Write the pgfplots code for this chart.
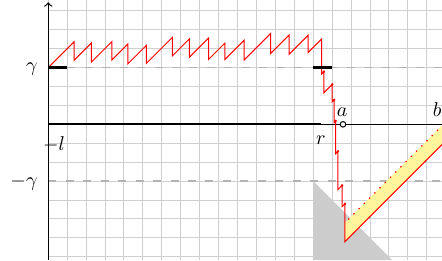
\documentclass[border=0pt]{standalone}
\usepackage{pgfplots}
\pgfplotsset{compat=1.18}
\definecolor{band}{RGB}{255,245,157}
\begin{document}
\begin{tikzpicture}
\begin{axis}[
  x=0.33333cm, y=0.33333cm,
  xmin=0, xmax=20.8, ymin=-7.17, ymax=6.57,
  xtick={0,...,21}, ytick={-7,...,6},
  xticklabels={}, yticklabels={},
  major tick length=0pt,
  grid=major,
  grid style={line width=0.5pt, draw=gray!38},
  axis line style={draw=none},
  clip=false,
  every node/.append style={font=\fontsize{11.5}{14}\selectfont},
]
% dashed levels
\addplot[gray!60, line width=0.7pt, dash pattern=on 4pt off 4.75pt] coordinates {(1,3) (22,3)};
\addplot[gray!60, line width=0.7pt, dash pattern=on 4pt off 4.75pt] coordinates {(0,-3) (22,-3)};
% grey triangle
\addplot[fill=gray!40, draw=none] coordinates {(14,-3) (14,-7.17) (18.17,-7.17)} -- cycle;
% yellow band
\addplot[fill=band, draw=none] coordinates {(15.67,-6.2) (15.67,-5.2) (22,1.13) (22,0.13)} -- cycle;
% x axis
\addplot[black, line width=0.5pt] coordinates {(0,0) (22,0)};
\addplot[black, line width=1pt] coordinates {(0,0) (14.4,0)};
% path
\addplot[red, line width=0.5pt] coordinates {
(0,3)
(1.36,4.36) (1.36,3.38)
(2.28,4.30) (2.28,3.29)
(3.36,4.37) (3.36,3.40)
(4.21,4.25) (4.21,3.20)
(5.18,4.17) (5.18,3.22)
(6.55,4.59) (6.55,3.61)
(7.46,4.52) (7.46,3.55)
(8.47,4.56) (8.47,3.43)
(9.33,4.29) (9.33,3.43)
(10.35,4.45) (10.35,3.40)
(11.75,4.80) (11.75,3.75)
(12.72,4.72) (12.72,3.70)
(13.73,4.71) (13.73,3.80)
(14.44,4.51) (14.44,2.66)
(14.56,2.78) (14.56,1.67)
(15.00,2.11) (15.00,1.19)
(15.10,1.29) (15.10,0.10)
(15.18,0.18) (15.18,-1.55)
(15.30,-1.43) (15.30,-3.45)
(15.52,-3.23) (15.52,-4.35)
(15.67,-4.20) (15.67,-6.20)
(22,0.13)
};
\addplot[only marks, mark=*, mark size=0.4pt, red] coordinates {
(14.56,2.78) (15.00,2.11) (15.10,1.29) (15.18,0.18) (15.30,-1.43) (15.52,-3.23) (15.67,-4.20)};
% dotted line
\addplot[red, line width=0.9pt, line cap=round, dash pattern=on 0pt off 3.7pt] coordinates {(15.87,-5.0) (22,1.13)};
% thick gamma segments
\addplot[black, line width=1.4pt] coordinates {(0,3) (1,3)};
\addplot[black, line width=1.4pt] coordinates {(14,3) (15,3)};
% y axis
\draw[->, line width=0.6pt] (axis cs:0,-7.17) -- (axis cs:0,6.45);
% point a
\addplot[only marks, mark=*, mark size=1.4pt, mark options={fill=white, draw=black, line width=0.5pt}] coordinates {(15.57,0)};
% labels
\node[anchor=base east, inner sep=0pt] at (axis cs:-0.55,2.8) {$\gamma$};
\node[anchor=base east, inner sep=0pt] at (axis cs:-0.55,-3.3) {$-\gamma$};
\node[anchor=base, inner sep=0pt] at (axis cs:0.3,-1.36) {$-l$};
\node[anchor=base, inner sep=0pt] at (axis cs:14.4,-1.04) {$r$};
\node[anchor=base, inner sep=0pt] at (axis cs:15.52,0.4) {$a$};
\node[anchor=base, inner sep=0pt] at (axis cs:20.55,0.4) {$b$};
\coordinate (BL) at (axis cs:-2.55,-7.17);
\coordinate (TR) at (axis cs:20.8,6.57);
\end{axis}
\pgfresetboundingbox
\useasboundingbox (BL) rectangle (TR);
\end{tikzpicture}
\end{document}
